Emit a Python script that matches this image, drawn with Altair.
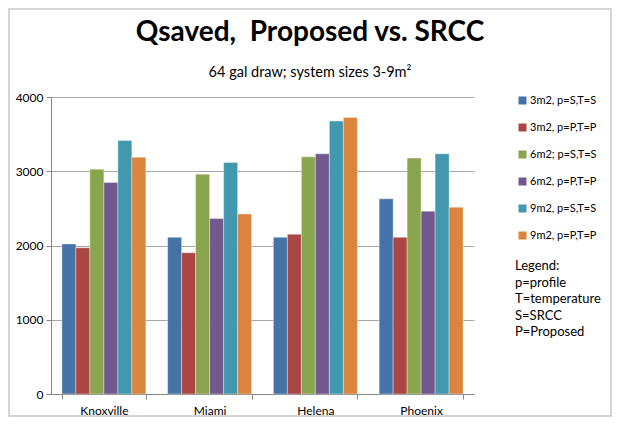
import altair as alt
import pandas as pd

cities = ["Knoxville", "Miami", "Helena", "Phoenix"]
series = ["3m2, p=S,T=S", "3m2, p=P,T=P", "6m2; p=S,T=S",
          "6m2, p=P,T=P", "9m2, p=S,T=S", "9m2, p=P,T=P"]
s_3_S = [2020, 2110, 2110, 2628]
s_3_P = [1970, 1903, 2151, 2110]
s_6_S = [3028, 2961, 3194, 3177]
s_6_P = [2848, 2362, 3235, 2462]
s_9_S = [3415, 3118, 3676, 3235]
s_9_P = [3190, 2425, 3725, 2516]
colors = ["#4572A7", "#AA4643", "#89A54E", "#71588F", "#4198AF", "#DB843D"]
y_ticks = [0, 1000, 2000, 3000, 4000]
notes = ["Legend:", "p=profile", "T=temperature", "S=SRCC", "P=Proposed"]
title_text = "Qsaved,\u00a0 Proposed vs. SRCC"
subtitle_text = "64 gal draw; system sizes 3-9m\u00b2"

all_series = [s_3_S, s_3_P, s_6_S, s_6_P, s_9_S, s_9_P]
rows = []
for name, vals in zip(series, all_series):
    for c, v in zip(cities, vals):
        rows.append({"city": c, "series": name, "value": v})
df = pd.DataFrame(rows)

FONT = "Lato"
W, H = 423, 297
PL, PT, PR, PB = 43, 89, 138, 23
GRID = "#a8a8a8"
AXIS = "#868686"

bars = alt.Chart(df).mark_bar(stroke="white", strokeWidth=0.6, strokeOpacity=0.6).encode(
    x=alt.X("city:N", sort=cities,
            scale=alt.Scale(paddingInner=0.206, paddingOuter=0.103),
            axis=alt.Axis(title=None, tickBand="extent", labelAngle=0,
                          labelFont=FONT, labelFontSize=12, labelColor="#000",
                          labelPadding=6, tickSize=5, tickColor=AXIS,
                          domainColor=AXIS, grid=False)),
    xOffset=alt.XOffset("series:N", sort=series),
    y=alt.Y("value:Q", scale=alt.Scale(domain=[0, 4000], nice=False),
            axis=alt.Axis(title=None, values=y_ticks, format="d",
                          labelFont=FONT, labelFontSize=12, labelColor="#000",
                          labelPadding=3, tickSize=5, tickColor=AXIS,
                          domainColor=AXIS, gridColor=GRID, gridWidth=1)),
    color=alt.Color("series:N", sort=series,
                    scale=alt.Scale(domain=series, range=colors),
                    legend=alt.Legend(title=None, orient="none",
                                      legendX=466, legendY=-2,
                                      symbolType="square", symbolSize=64,
                                      symbolStrokeWidth=0,
                                      labelFont=FONT, labelFontSize=11,
                                      labelColor="#000", labelOffset=2,
                                      rowPadding=15)),
)

one = pd.DataFrame({"k": [0]})

note_text = alt.Chart(one).mark_text(
    align="left", baseline="top", font=FONT, fontSize=13, lineHeight=16.5,
    color="#000"
).encode(x=alt.value(464), y=alt.value(163), text=alt.value(notes))

title_mark = alt.Chart(one).mark_text(
    align="center", baseline="alphabetic", font=FONT, fontSize=28,
    fontWeight="bold", color="#000"
).encode(x=alt.value(259), y=alt.value(-56), text=alt.value(title_text))

subtitle_mark = alt.Chart(one).mark_text(
    align="center", baseline="alphabetic", font=FONT, fontSize=14.5,
    color="#000"
).encode(x=alt.value(259), y=alt.value(-20), text=alt.value(subtitle_text))

border = alt.Chart(one).mark_rect(
    fill=None, stroke="#c8c8c8", strokeWidth=1.5
).encode(x=alt.value(-PL + 1), x2=alt.value(W + PR - 1),
         y=alt.value(-PT + 1), y2=alt.value(H + PB - 1))

chart = alt.layer(border, bars, note_text, title_mark, subtitle_mark).properties(
    width=W, height=H,
    autosize=alt.AutoSizeParams(type="none"),
    padding={"left": PL, "top": PT, "right": PR, "bottom": PB},
).configure_view(stroke=None)

chart.save("out.html", embed_options={"renderer": "svg", "actions": False})
